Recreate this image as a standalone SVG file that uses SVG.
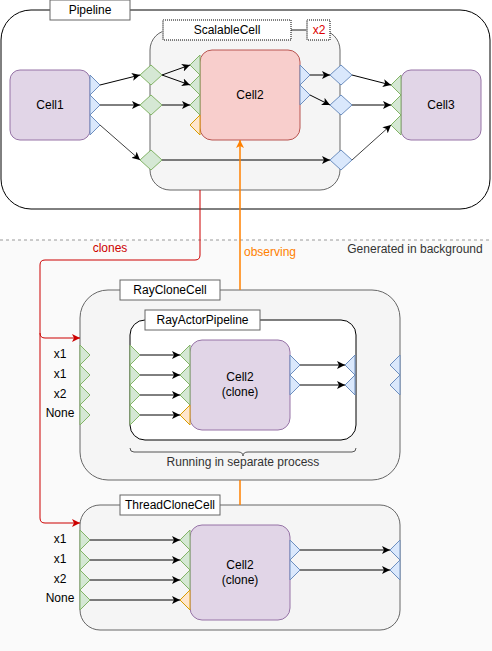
<svg xmlns="http://www.w3.org/2000/svg" width="492" height="651" viewBox="0 0 492 651">
<defs>
<style>
text{font-family:"Liberation Sans",Arial,sans-serif;font-size:12px;fill:#000;text-anchor:middle;dominant-baseline:central}
.cont{fill:#f5f5f5;stroke:#666;stroke-width:1}
.lbl{fill:#fff;stroke:#666;stroke-width:1}
.purple{fill:#e1d5e7;stroke:#9673a6}
.red{fill:#f8cecc;stroke:#b85450}
.g{fill:#d5e8d4;stroke:#82b366;stroke-width:1}
.b{fill:#dae8fc;stroke:#6c8ebf;stroke-width:1}
.o{fill:#ffe6cc;stroke:#d79b00;stroke-width:1}
.e{fill:none;stroke:#000;stroke-width:1;marker-end:url(#ah)}
.et{fill:none;stroke:#000;stroke-width:0.75;marker-end:url(#ah)}
</style>
<marker id="ah" markerUnits="userSpaceOnUse" viewBox="0 0 8 8" markerWidth="8" markerHeight="8" refX="8" refY="4" orient="auto"><path d="M0,0 L8,4 L0,8 L2,4 Z" fill="#000"/></marker>
<marker id="ahr" markerUnits="userSpaceOnUse" viewBox="0 0 8 8" markerWidth="8" markerHeight="8" refX="8" refY="4" orient="auto"><path d="M0,0 L8,4 L0,8 L2,4 Z" fill="#CC0000"/></marker>
<marker id="aho" markerUnits="userSpaceOnUse" viewBox="0 0 8 8" markerWidth="8" markerHeight="8" refX="8" refY="4" orient="auto"><path d="M0,0 L8,4 L0,8 L2,4 Z" fill="#FF8000"/></marker>
</defs>
<rect x="0" y="0" width="492" height="651" fill="#fff"/>
<rect x="0" y="240" width="492" height="411" fill="#fafafa"/>
<line x1="0" y1="240" x2="492" y2="240" stroke="#999" stroke-dasharray="3 3"/>
<text x="415" y="249" fill="#333" style="fill:#333">Generated in background</text>

<g id="pipeline">
<rect x="1" y="10" width="489" height="199" rx="30" fill="#fff" stroke="#000"/>
<rect class="lbl" x="50" y="0" width="80" height="20"/>
<text x="90" y="10">Pipeline</text>
</g>

<g id="scalablecell">
<rect class="cont" x="150" y="30" width="190" height="160" rx="20"/>
<line x1="291" y1="30" x2="307" y2="30" stroke="#666"/>
<rect x="163" y="20" width="128" height="20" fill="#fff" stroke="#000" stroke-dasharray="1 1"/>
<line x1="163" y1="20" x2="163" y2="40" stroke="#aaa" stroke-width="1.5"/>
<text x="227" y="30">ScalableCell</text>
<rect x="307" y="20" width="23" height="20" fill="#fff" stroke="#000" stroke-dasharray="1 1"/>
<line x1="307" y1="20" x2="307" y2="40" stroke="#aaa" stroke-width="1.5"/>
<text x="319" y="30" style="fill:#d00">x2</text>
<polygon class="g" points="140,75 151,65 162,75 151,85"/>
<polygon class="g" points="140,105 151,95 162,105 151,115"/>
<polygon class="g" points="140,160 151,150 162,160 151,170"/>
<polygon class="b" points="330,75 341,65 352,75 341,85"/>
<polygon class="b" points="330,105 341,95 352,105 341,115"/>
<polygon class="b" points="330,160 341,150 352,160 341,170"/>
</g>

<g id="cell1">
<rect class="purple" x="10" y="70" width="80" height="70" rx="10"/>
<text x="50" y="105">Cell1</text>
<polygon class="b" points="90,75 100,85 90,95"/>
<polygon class="b" points="90,95 100,105 90,115"/>
<polygon class="b" points="90,115 100,125 90,135"/>
</g>

<g id="cell2">
<rect class="red" x="200" y="50" width="100" height="90" rx="12"/>
<text x="250" y="95">Cell2</text>
<polygon class="g" points="200,55 190,65 200,75"/>
<polygon class="g" points="200,75 190,85 200,95"/>
<polygon class="g" points="200,95 190,105 200,115"/>
<polygon class="o" points="200,115 190,125 200,135"/>
<polygon class="b" points="300,65 310,75 300,85"/>
<polygon class="b" points="300,85 310,95 300,105"/>
</g>

<g id="cell3">
<rect class="purple" x="401" y="70" width="80" height="70" rx="10"/>
<text x="441" y="105">Cell3</text>
<polygon class="g" points="401,75 391,85 401,95"/>
<polygon class="g" points="401,95 391,105 401,115"/>
<polygon class="g" points="401,115 391,125 401,135"/>
</g>

<g id="raycloncell">
<rect class="cont" x="80" y="290" width="320" height="190" rx="28"/>
<rect class="lbl" x="120" y="280" width="100" height="20"/>
<text x="170" y="290">RayCloneCell</text>
<polygon class="g" points="80,345 90,355 80,365"/>
<polygon class="g" points="80,365 90,375 80,385"/>
<polygon class="g" points="80,385 90,395 80,405"/>
<polygon class="g" points="80,405 90,415 80,425"/>
<text x="60" y="354">x1</text>
<text x="60" y="374">x1</text>
<text x="60" y="394">x2</text>
<text x="60" y="413">None</text>
<polygon class="b" points="400,355 390,365 400,375"/>
<polygon class="b" points="400,375 390,385 400,395"/>
<path d="M130,448 Q130,452 134,452 H238 Q243,452 243,456 Q243,452 248,452 H352 Q356,452 356,448" fill="none" stroke="#555"/>
<text x="243" y="462" style="fill:#333">Running in separate process</text>
</g>

<g id="rayactorpipeline">
<rect x="130" y="320" width="226" height="120" rx="15" fill="#fff" stroke="#000"/>
<rect class="lbl" x="145" y="310" width="115" height="20"/>
<text x="202.5" y="320">RayActorPipeline</text>
<polygon class="g" points="130,345 140,355 130,365"/>
<polygon class="g" points="130,365 140,375 130,385"/>
<polygon class="g" points="130,385 140,395 130,405"/>
<polygon class="g" points="130,405 140,415 130,425"/>
<polygon class="b" points="355,355 345,365 355,375"/>
<polygon class="b" points="355,375 345,385 355,395"/>
</g>

<g id="cell2clone-ray">
<rect class="purple" x="190" y="340" width="100" height="90" rx="12"/>
<text x="240" y="377">Cell2</text>
<text x="240" y="392">(clone)</text>
<polygon class="g" points="190,345 180,355 190,365"/>
<polygon class="g" points="190,365 180,375 190,385"/>
<polygon class="g" points="190,385 180,395 190,405"/>
<polygon class="o" points="190,405 180,415 190,425"/>
<polygon class="b" points="290,355 300,365 290,375"/>
<polygon class="b" points="290,375 300,385 290,395"/>
</g>

<g id="threadclonecell">
<rect class="cont" x="80" y="505" width="320" height="125" rx="20"/>
<rect class="lbl" x="120" y="495" width="100" height="20"/>
<text x="170" y="505">ThreadCloneCell</text>
<polygon class="g" points="80,530 90,540 80,550"/>
<polygon class="g" points="80,550 90,560 80,570"/>
<polygon class="g" points="80,570 90,580 80,590"/>
<polygon class="g" points="80,590 90,600 80,610"/>
<text x="60" y="539">x1</text>
<text x="60" y="559">x1</text>
<text x="60" y="579">x2</text>
<text x="60" y="598">None</text>
<polygon class="b" points="400,540 390,550 400,560"/>
<polygon class="b" points="400,560 390,570 400,580"/>
</g>

<g id="cell2clone-thread">
<rect class="purple" x="190" y="525" width="100" height="95" rx="12"/>
<text x="240" y="565">Cell2</text>
<text x="240" y="580">(clone)</text>
<polygon class="g" points="190,530 180,540 190,550"/>
<polygon class="g" points="190,550 180,560 190,570"/>
<polygon class="g" points="190,570 180,580 190,590"/>
<polygon class="o" points="190,590 180,600 190,610"/>
<polygon class="b" points="290,540 300,550 290,560"/>
<polygon class="b" points="290,560 300,570 290,580"/>
</g>

<g id="connectors">
<path class="e" d="M100,85 L140,75"/>
<path class="e" d="M100,105 L140,105"/>
<path class="et" d="M100,125 L140,160"/>
<path class="e" d="M162,75 L190,65"/>
<path class="e" d="M162,75 L190,85"/>
<path class="e" d="M162,105 L190,105"/>
<path class="e" d="M162,160 L330,160"/>
<path class="e" d="M310,75 L330,75"/>
<path class="e" d="M310,95 L330,105"/>
<path class="e" d="M352,75 L391,85"/>
<path class="e" d="M352,105 L391,105"/>
<path class="et" d="M352,160 L391,125"/>
<path class="e" d="M140,355 H180"/>
<path class="e" d="M140,375 H180"/>
<path class="e" d="M140,395 H180"/>
<path class="e" d="M140,415 H180"/>
<path class="e" d="M300,365 H345"/>
<path class="e" d="M300,385 H345"/>
<path class="e" d="M90,540 H180"/>
<path class="e" d="M90,560 H180"/>
<path class="e" d="M90,580 H180"/>
<path class="e" d="M90,600 H180"/>
<path class="e" d="M300,550 H390"/>
<path class="e" d="M300,570 H390"/>
<path d="M200,190 V255 Q200,260 195,260 H45 Q40,260 40,265 V333 Q40,338 45,338 H80" fill="none" stroke="#CC0000" marker-end="url(#ahr)"/>
<path d="M40,333 V518 Q40,523 45,523 H80" fill="none" stroke="#CC0000" marker-end="url(#ahr)"/>
<text x="110" y="248" style="fill:#CC0000">clones</text>
<path d="M240,290 V140" fill="none" stroke="#FF8000" stroke-width="1.5" marker-end="url(#aho)"/>
<path d="M240,480 V505" fill="none" stroke="#FF8000" stroke-width="1.5"/>
<text x="244" y="252" style="fill:#FF8000;text-anchor:start">observing</text>
</g>
</svg>
